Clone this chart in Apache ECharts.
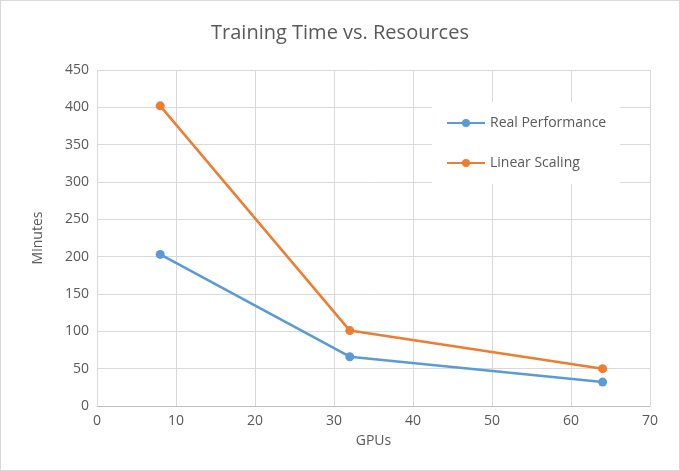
<!DOCTYPE html>
<html><head><meta charset="utf-8">
<script src="https://cdn.jsdelivr.net/npm/echarts@6/dist/echarts.min.js"></script>
<style>html,body{margin:0;padding:0;background:#fff}#main{width:680px;height:471px}</style>
</head><body><div id="main"></div>
<script>
var gpus = [8, 32, 64];
var realPerformance = [203, 66, 32];
var linearScaling = [402, 101, 50];

var myChart = echarts.init(document.getElementById('main'));
function pairs(xs, ys) {
	return xs.map(function(x, i) { return [x, ys[i]]; });
}
var option = {
	backgroundColor: '#fff',
	textStyle: { fontFamily: 'Open Sans' },
	title: {
		text: 'Training Time vs. Resources',
		left: 'center', top: 18,
		textStyle: { fontSize: 20, fontWeight: 'normal', color: '#595959', fontFamily: 'Open Sans' }
	},
	legend: {
		orient: 'vertical', left: 432, top: 102, itemGap: 26,
		backgroundColor: '#fff', padding: [14, 14, 14, 14],
		itemWidth: 38, itemHeight: 10,
		textStyle: { fontSize: 14, color: '#595959', width: 140 },
		data: ['Real Performance', 'Linear Scaling']
	},
	grid: { left: 97, right: 30, top: 70, bottom: 65 },
	xAxis: {
		type: 'value', min: 0, max: 70, interval: 10,
		name: 'GPUs', nameLocation: 'middle', nameGap: 28,
		nameTextStyle: { fontSize: 14, color: '#595959' },
		axisLine: { lineStyle: { color: '#bfbfbf' } },
		axisTick: { show: false },
		axisLabel: { fontSize: 14, color: '#595959' },
		splitLine: { lineStyle: { color: '#d9d9d9' } }
	},
	yAxis: {
		type: 'value', min: 0, max: 450, interval: 50,
		name: 'Minutes', nameLocation: 'middle', nameGap: 52,
		nameTextStyle: { fontSize: 14, color: '#595959' },
		axisLine: { show: false },
		axisTick: { show: false },
		axisLabel: { fontSize: 14, color: '#595959' },
		splitLine: { lineStyle: { color: '#d9d9d9' } }
	},
	series: [{
		name: 'Real Performance', type: 'line',
		data: pairs(gpus, realPerformance),
		symbol: 'circle', symbolSize: 9,
		itemStyle: { color: '#5b9bd5' },
		lineStyle: { width: 2.5, color: '#5b9bd5' }
	}, {
		name: 'Linear Scaling', type: 'line',
		data: pairs(gpus, linearScaling),
		symbol: 'circle', symbolSize: 9,
		itemStyle: { color: '#ed7d31' },
		lineStyle: { width: 2.5, color: '#ed7d31' }
	}]
};
myChart.setOption(option);
</script>
<div style="position:absolute;left:0;top:0;width:678px;height:469px;border:1px solid #d9d9d9;pointer-events:none"></div>
</body></html>
